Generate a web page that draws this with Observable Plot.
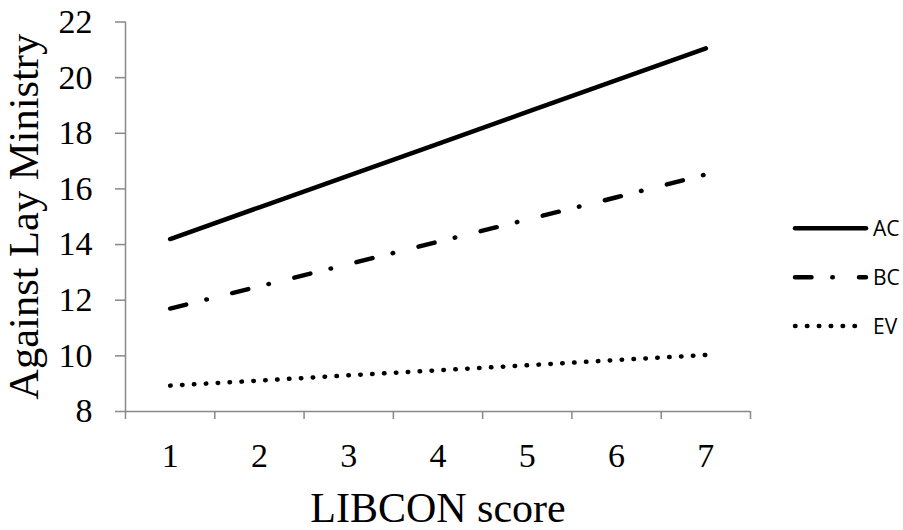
<!DOCTYPE html>
<html>
<head>
<meta charset="utf-8">
<script src="https://cdn.jsdelivr.net/npm/d3@7"></script>
<script src="https://cdn.jsdelivr.net/npm/@observablehq/plot@0.6"></script>
<style>
  html, body { margin: 0; padding: 0; background: #ffffff; }
  #wrap { position: relative; width: 903px; height: 530px; }
  #legend { position: absolute; left: 0; top: 0; }
</style>
</head>
<body>
<div id="wrap"></div>
<script>
// ---- data ----
const xCategories = [1, 2, 3, 4, 5, 6, 7];
const xBoundaries = [0.5, 1.5, 2.5, 3.5, 4.5, 5.5, 6.5, 7.5];
const yTicks = [8, 10, 12, 14, 16, 18, 20, 22];
const seriesNames = ["AC", "BC", "EV"];
const acValues = [14.2, 15.34, 16.48, 17.62, 18.77, 19.91, 21.05];
const bcValues = [11.7, 12.5, 13.3, 14.1, 14.9, 15.7, 16.52];
const evValues = [8.93, 9.11, 9.3, 9.48, 9.66, 9.85, 10.03];
const xTitle = "LIBCON score";
const yTitle = "Against Lay Ministry";

// ---- styles ----
const seriesDash = { AC: null, BC: "16.5 20.8 0.5 26.2", EV: "0.5 11.4" };
const axisColor = "#898989";
const lineWidth = 4.5;

const seriesValues = { AC: acValues, BC: bcValues, EV: evValues };

const lineMarks = seriesNames.map(name =>
  Plot.line(seriesValues[name], {
    x: (d, i) => xCategories[i],
    y: d => d,
    stroke: "black",
    strokeWidth: lineWidth,
    strokeLinecap: "round",
    strokeDasharray: seriesDash[name]
  })
);

const chart = Plot.plot({
  width: 903,
  height: 530,
  marginLeft: 125,
  marginRight: 153,
  marginTop: 21.5,
  marginBottom: 119,
  x: { domain: [0.5, 7.5] },
  y: { domain: [8, 22] },
  style: { fontFamily: "'Liberation Serif', 'Times New Roman', serif", background: "white", color: "black" },
  marks: [
    Plot.axisY({ ticks: yTicks, tickFormat: d => String(d), tickSize: 10, tickPadding: 23, fontSize: 34, stroke: axisColor, strokeWidth: 1.5, strokeOpacity: 1, label: null, fill: "black" }),
    Plot.axisX({ ticks: xBoundaries, tickFormat: () => "", tickSize: 8, stroke: axisColor, strokeWidth: 1.5, strokeOpacity: 1, label: null }),
    Plot.axisX({ ticks: xCategories, tickFormat: d => String(d), tickSize: 0, tickPadding: 31, fontSize: 34, label: null, fill: "black" }),
    Plot.ruleX([0.5], { stroke: axisColor, strokeWidth: 1.5 }),
    Plot.ruleY([8], { stroke: axisColor, strokeWidth: 1.5 }),
    ...lineMarks,
    Plot.text([yTitle], { frameAnchor: "left", text: d => d, rotate: -90, dx: -101, fontSize: 42.5, fill: "black", textAnchor: "middle", lineAnchor: "middle" }),
    Plot.text([xTitle], { frameAnchor: "bottom", text: d => d, dy: 97, fontSize: 42, fill: "black", textAnchor: "middle", lineAnchor: "middle" })
  ]
});

const wrap = document.getElementById("wrap");
wrap.appendChild(chart);

// ---- legend (right side) ----
const legendRowsY = [228.3, 277.3, 326];
const legendX1 = 795, legendX2 = 866, legendTextX = 873;
const leg = d3.select(wrap).append("svg")
  .attr("id", "legend")
  .attr("width", 903).attr("height", 530)
  .style("pointer-events", "none");
seriesNames.forEach((name, i) => {
  const y = legendRowsY[i];
  leg.append("line")
    .attr("x1", legendX1).attr("x2", legendX2)
    .attr("y1", y).attr("y2", y)
    .attr("stroke", "black")
    .attr("stroke-width", lineWidth)
    .attr("stroke-linecap", "round")
    .attr("stroke-dasharray", seriesDash[name]);
  leg.append("text")
    .attr("x", legendTextX).attr("y", y + 7.7)
    .attr("font-family", "'Open Sans', 'Noto Sans', sans-serif")
    .attr("font-size", 21)
    .attr("fill", "black")
    .text(name);
});
</script>
</body>
</html>
